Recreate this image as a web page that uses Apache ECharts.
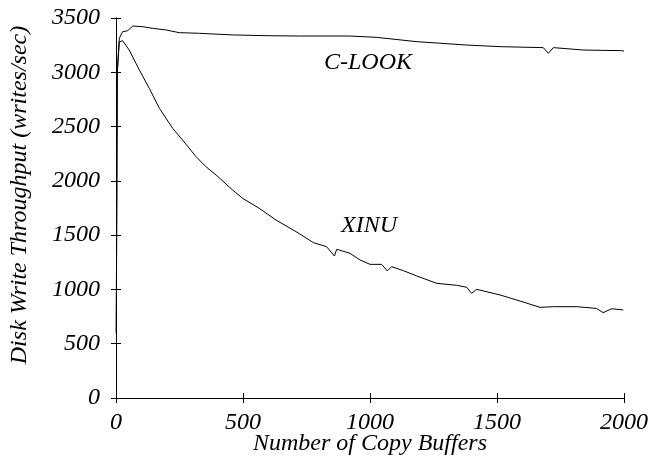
<!DOCTYPE html>
<html><head><meta charset="utf-8">
<script src="https://cdn.jsdelivr.net/npm/echarts@6/dist/echarts.min.js"></script>
<style>html,body{margin:0;padding:0;background:#fff}#c{width:652px;height:460px}</style>
</head><body><div id="c"></div>
<script>
var xTicks = [0, 500, 1000, 1500, 2000];
var yTicks = [0, 500, 1000, 1500, 2000, 2500, 3000, 3500];
var clookX = [1, 5, 13, 26, 46, 66, 105, 144, 197, 249, 328, 459, 591, 722, 919, 1024, 1184, 1381, 1512, 1682, 1702, 1722, 1840, 1991, 2000];
var clookY = [600, 3000, 3313, 3374, 3383, 3426, 3420, 3405, 3390, 3365, 3359, 3344, 3337, 3334, 3334, 3322, 3282, 3251, 3236, 3227, 3175, 3227, 3205, 3199, 3195];
var xinuX = [1, 5, 13, 26, 52, 92, 131, 171, 223, 262, 315, 354, 394, 459, 499, 564, 630, 709, 777, 829, 860, 869, 921, 961, 1000, 1046, 1068, 1085, 1131, 1184, 1263, 1341, 1381, 1400, 1420, 1512, 1591, 1669, 1722, 1814, 1892, 1918, 1951, 1997];
var xinuY = [600, 3000, 3280, 3291, 3205, 3021, 2852, 2668, 2484, 2376, 2223, 2131, 2054, 1916, 1839, 1747, 1639, 1532, 1431, 1394, 1308, 1370, 1333, 1271, 1231, 1231, 1170, 1210, 1173, 1124, 1056, 1038, 1020, 964, 1001, 949, 893, 835, 841, 841, 825, 786, 822, 811];
var seriesNames = ['C-LOOK', 'XINU'];
var xName = 'Number of Copy Buffers';
var yName = 'Disk Write Throughput (writes/sec)';

function pairs(xs, ys){ return xs.map(function(x,i){return [x, ys[i]];}); }
var font = 'Liberation Serif';
var chart = echarts.init(document.getElementById('c'));
var axisLine = {show:true, lineStyle:{color:'#000', width:1}};
var tick = {show:true, inside:true, length:5, lineStyle:{color:'#000'}};
chart.setOption({
  animation:false,
  backgroundColor:'#fff',
  grid:{left:116, right:28, top:18, bottom:62, show:false, containLabel:false, outerBoundsMode:'none'},
  xAxis:[{
    type:'value', min:0, max:2000, interval:500, position:'bottom',
    axisLine:axisLine, axisTick:tick, splitLine:{show:false},
    axisLabel:{fontFamily:font, fontStyle:'italic', fontSize:24, color:'#000', margin:13,
      formatter:function(v){return xTicks.indexOf(v)>=0 ? String(v) : '';}},
    name:xName, nameLocation:'middle', nameGap:34, nameMoveOverlap:false,
    nameTextStyle:{fontFamily:font, fontStyle:'italic', fontSize:24, color:'#000'}
  },{
    type:'value', min:0, max:2000, interval:500, position:'top',
    axisLine:axisLine, axisTick:tick, axisLabel:{show:false}, splitLine:{show:false}
  }],
  yAxis:[{
    type:'value', min:0, max:3500, interval:500, position:'left',
    axisLine:axisLine, axisTick:tick, splitLine:{show:false},
    axisLabel:{fontFamily:font, fontStyle:'italic', fontSize:24, color:'#000', margin:16,
      formatter:function(v){return yTicks.indexOf(v)>=0 ? String(v) : '';}},
    name:yName, nameLocation:'middle', nameGap:84, nameRotate:90, nameMoveOverlap:false,
    nameTextStyle:{fontFamily:font, fontStyle:'italic', fontSize:24, color:'#000', padding:[0,0,0,26]}
  },{
    type:'value', min:0, max:3500, interval:500, position:'right',
    axisLine:axisLine, axisTick:tick, axisLabel:{show:false}, splitLine:{show:false}
  }],
  series:[{
    name:seriesNames[0], type:'line', data:pairs(clookX, clookY), showSymbol:false,
    lineStyle:{color:'#000', width:1}
  },{
    name:seriesNames[1], type:'line', data:pairs(xinuX, xinuY), showSymbol:false,
    lineStyle:{color:'#000', width:1}
  }],
  graphic:[
    {type:'text', left:324, top:51, style:{text:seriesNames[0], font:'italic 24px "Liberation Serif"', fill:'#000'}},
    {type:'text', left:341, top:214, style:{text:seriesNames[1], font:'italic 24px "Liberation Serif"', fill:'#000'}}
  ]
});
</script></body></html>
